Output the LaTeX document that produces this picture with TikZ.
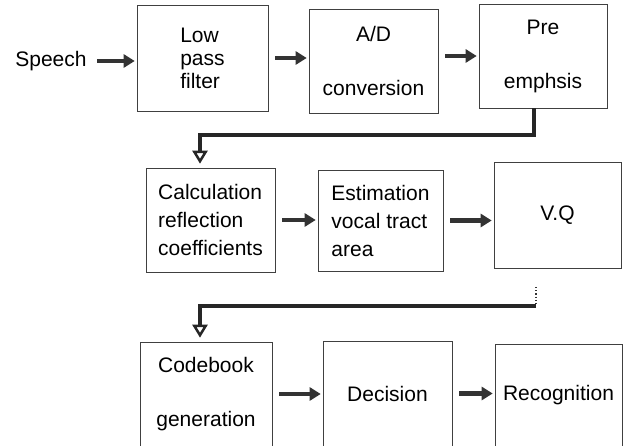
\documentclass[tikz,border=0pt]{standalone}
\usepackage{fontspec}
\setmainfont{Liberation Sans}
\usetikzlibrary{arrows.meta}

\begin{document}
\begin{tikzpicture}[x=1pt,y=-1pt,
   box/.style={draw=black!75,line width=.6pt,inner sep=0pt,
      font=\fontsize{21}{26}\selectfont},
   flow/.style={draw=black!80,line width=4.5pt,shorten <=7pt,shorten >=2pt,
      -{Triangle[length=11pt,width=13pt]}},
   bigflow/.style={draw=black!85,line width=4.5pt,
      -{Triangle[open,length=13pt,width=15pt,line width=2.5pt]}}]
   \useasboundingbox (0,0) rectangle (632,446);

   % first row
   \node (speech) at (51,61) {\fontsize{21}{26}\selectfont Speech};
   \node[box,minimum width=131pt,minimum height=106pt,align=left] (lpf) at (202.5,58)
      {Low\\[-3pt]pass\\[-3pt]filter};
   \node[box,minimum width=129pt,minimum height=104pt,align=center] (adc) at (373.5,61)
      {A/D\\[28pt]conversion};
   \node[box,minimum width=128pt,minimum height=104pt,align=center] (pre) at (543,56)
      {Pre\\[28pt]emphsis};

   % second row
   \node[box,minimum width=129pt,minimum height=104pt,align=left] (calc) at (210.5,220)
      {Calculation\\[2pt]reflection\\[2pt]coefficients};
   \node[box,minimum width=125pt,minimum height=101pt,align=left] (est) at (380.5,220.5)
      {Estimation\\[2pt]vocal tract\\[2pt]area};
   \node[box,minimum width=127pt,minimum height=106pt] (vq) at (557.5,215)
      {V.Q};

   % third row
   \node[box,minimum width=132pt,minimum height=104pt,align=center] (code) at (206,394)
      {Codebook\\[28pt]generation};
   \node[box,minimum width=129pt,minimum height=105pt] (dec) at (387.5,393.5)
      {Decision};
   \node[box,minimum width=127pt,minimum height=102pt] (rec) at (558.5,395)
      {Recognition};

   \draw[flow] (speech.east) -- (speech.east -| lpf.west);
   \draw[flow] (lpf.east) -- (lpf.east -| adc.west);
   \draw[flow] (pre.west -| adc.east) -- (pre.west);
   \draw[flow] (calc.east) -- (calc.east -| est.west);
   \draw[flow] (est.east) -- (est.east -| vq.west);
   \draw[flow] (code.east) -- (code.east -| dec.west);
   \draw[flow] (dec.east) -- (dec.east -| rec.west);

   % turns between the rows
   \coordinate (preturn) at (534,135);
   \draw[bigflow,shorten >=4pt] (pre.south -| preturn) -- (preturn) -| (calc.north -| 200,0);
   \coordinate (vqout) at (536,287);
   \coordinate (vqturn) at (536,306);
   \draw[black!80,line width=1.2pt,dotted] (vqout) -- (vqturn);
   \draw[bigflow,shorten >=4pt] (vqturn) -| (code.north -| 200,0);
\end{tikzpicture}
\end{document}
